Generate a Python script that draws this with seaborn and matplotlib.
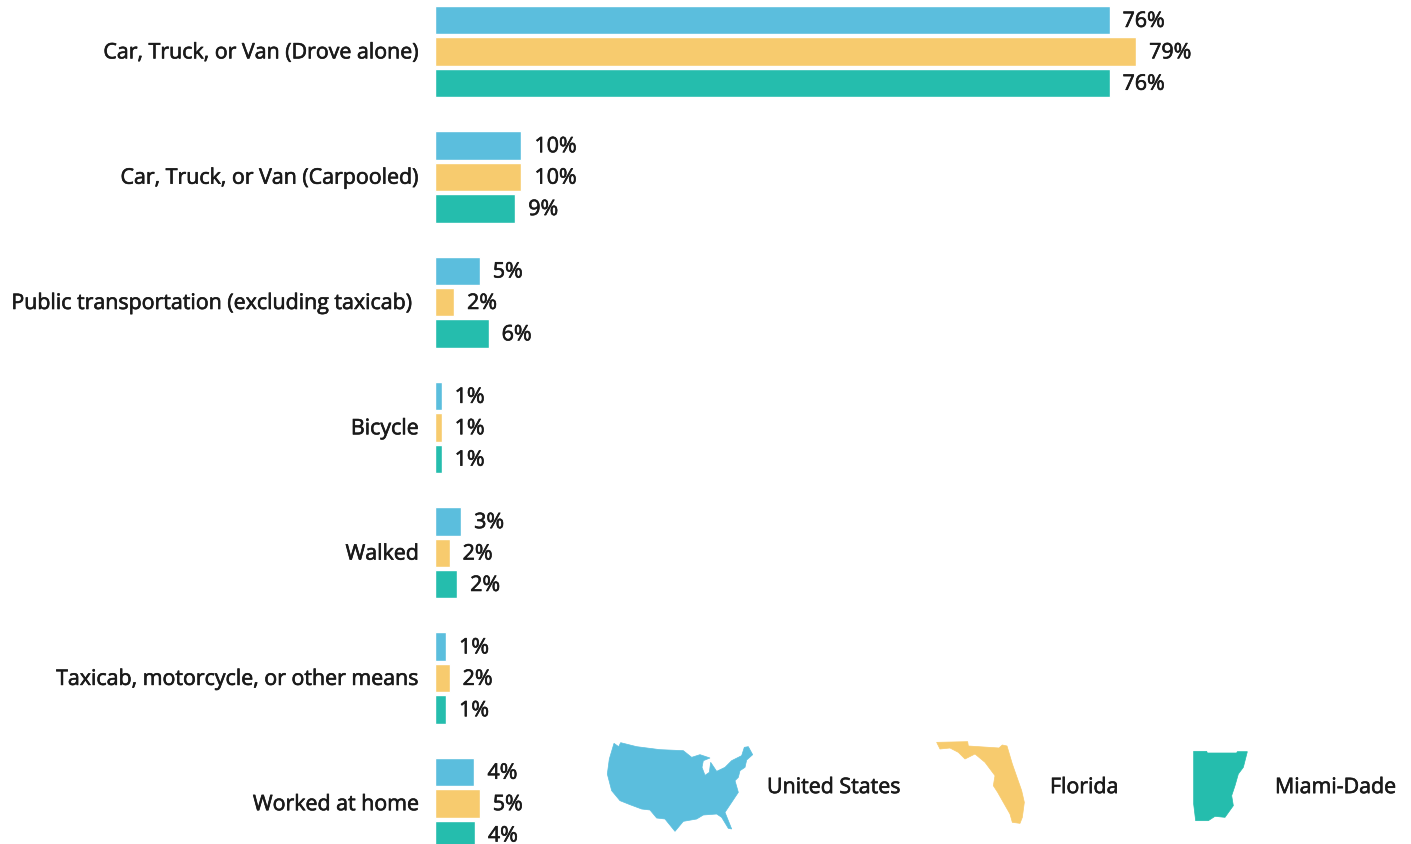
import matplotlib
matplotlib.use("Agg")
import matplotlib.pyplot as plt
import matplotlib.patheffects as pe
from matplotlib.patches import Polygon
from matplotlib.transforms import Affine2D
import pandas as pd
import seaborn as sns

categories = ["Car, Truck, or Van (Drove alone)", "Car, Truck, or Van (Carpooled)",
              "Public transportation (excluding taxicab)", "Bicycle", "Walked",
              "Taxicab, motorcycle, or other means", "Worked at home"]
regions = ["United States", "Florida", "Miami-Dade"]
united_states = [76.0, 9.7, 5.0, 0.7, 2.9, 1.2, 4.4]
florida = [79.0, 9.7, 2.1, 0.7, 1.6, 1.6, 5.0]
miami_dade = [76.0, 9.0, 6.0, 0.7, 2.45, 1.2, 4.45]
colors = ["#5BBEDD", "#F7CB6E", "#25BDAD"]

# Decorative legend silhouettes (zoomed-crop outline, offset and scale applied below)
us_shape = [(42,28),(56,38),(62,26),(110,38),(180,47),(250,50),(275,70),(300,62),(330,72),(310,80),(306,100),
            (315,124),(328,115),(332,85),(350,112),(375,100),(395,80),(425,65),(433,40),(445,38),(458,62),
            (440,78),(435,100),(420,110),(415,130),(405,140),(415,175),(395,205),(375,235),(395,285),(385,283),
            (365,250),(350,240),(310,243),(290,255),(250,262),(225,292),(195,255),(170,252),(150,228),(125,225),
            (90,212),(60,200),(35,170),(22,120),(28,75)]
fl_shape = [(35,25),(128,23),(130,36),(222,42),(232,33),(246,36),(262,90),(290,170),(298,205),(292,250),(285,268),
            (262,265),(255,240),(235,205),(218,175),(205,155),(210,125),(180,85),(150,60),(120,75),(100,55),(75,42),(45,45)]
md_shape = [(41,37),(80,37),(82,42),(170,42),(172,38),(202,38),(190,85),(175,105),(165,140),(155,170),(160,200),
            (135,235),(105,232),(85,245),(47,245),(41,195)]

sns.set_theme(style="white")
plt.rcParams["font.family"] = ["Open Sans", "DejaVu Sans"]

W, H = 1411, 845
TEXT = "#1a1a1a"
FS = 15.4
THICK = [pe.withStroke(linewidth=0.45, foreground=TEXT)]

df = pd.DataFrame({
    "mode": categories * 3,
    "region": [r for r in regions for _ in categories],
    "share": united_states + florida + miami_dade,
})

fig = plt.figure(figsize=(W / 100, H / 100), dpi=100)
left = 435.4
ax = fig.add_axes([left / W, 0, 1 - left / W, 1])
sns.barplot(data=df, y="mode", x="share", hue="region", hue_order=regions, order=categories,
            palette=colors, orient="y", width=0.752, gap=0.09, saturation=1, legend=False, ax=ax)

px_per_cat = 125.3
first_center = 52.6
ax.set_ylim((H - first_center) / px_per_cat, -first_center / px_per_cat)
ax.set_xlim(0, (W - left) / 8.87)
ax.set_xlabel("")
ax.set_ylabel("")
ax.set_xticks([])
sns.despine(ax=ax, left=True, bottom=True)
ax.tick_params(axis="y", length=0, pad=11.8)
for lab in ax.get_yticklabels():
    lab.set_fontsize(FS)
    lab.set_color(TEXT)
    lab.set_path_effects(THICK)
    lab.set_transform(lab.get_transform() + Affine2D().translate(0, 1.2))
    if lab.get_text().startswith("Public"):
        lab.set_x(-0.0058)  # this label sits a little further left in the source

for cont in ax.containers:
    for ann in ax.bar_label(cont, fmt="{:.0f}%", padding=9.0, fontsize=FS, color=TEXT, path_effects=THICK):
        ann.xyann = (9.4, -0.9)

# Legend built from silhouettes and names, placed in pixel space
px = Affine2D().scale(1, -1).translate(0, H)
shapes = [(us_shape, 600, 735), (fl_shape, 925, 735), (md_shape, 1180, 740)]
for (shape, ox, oy), col in zip(shapes, colors):
    pts = [(ox + x / 3, oy + y / 3) for x, y in shape]
    fig.add_artist(Polygon(pts, closed=True, facecolor=col, edgecolor=col, linewidth=0.5, transform=px))

for name, x in zip(regions, [767, 1050, 1275]):
    fig.text(x / W, 1 - 788.6 / H, name, ha="left", va="center", fontsize=FS, color=TEXT, path_effects=THICK)

fig.savefig("out.png", dpi=100)
